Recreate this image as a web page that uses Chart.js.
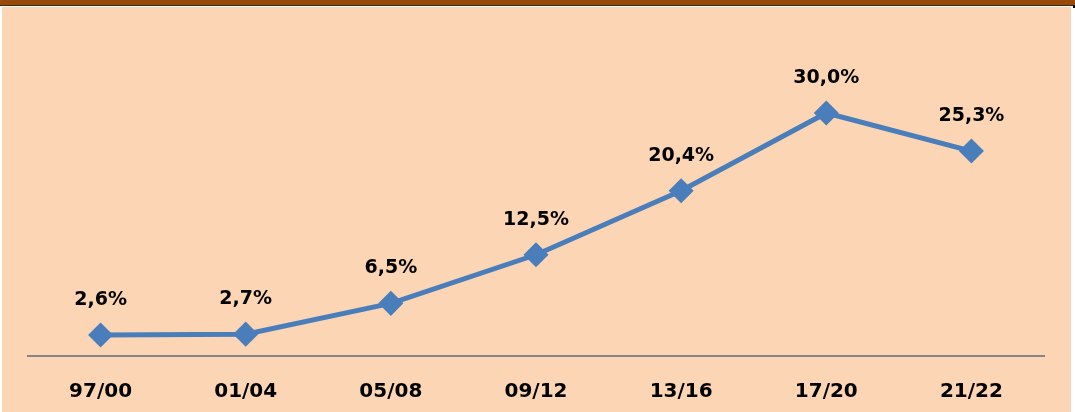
<!DOCTYPE html>
<html lang="pt">
<head>
  <meta charset="UTF-8">
  <title>Evolução</title>
  <script src="https://cdn.jsdelivr.net/npm/chart.js"></script>
  <style>
    body { margin: 0; background: #ffffff; width: 1075px; height: 412px; overflow: hidden; position: relative; font-family: "DejaVu Sans", sans-serif; }
    .topo { position: absolute; left: 0; top: 0; width: 1075px; height: 5px; background: #984807; }
    .topo-linha { position: absolute; left: 0; top: 5px; width: 1075px; height: 1px; background: #3f2a16; }
    .canto { position: absolute; left: 1073px; top: 5px; width: 2px; height: 3px; background: #000; }
    .painel { position: absolute; left: 2px; top: 7px; width: 1069px; height: 405px; background: #fcd5b4; }
  </style>
</head>
<body>
  <div class="topo"></div>
  <div class="topo-linha"></div>
  <div class="canto"></div>
  <div class="painel"><canvas id="grafico" width="1069" height="405"></canvas></div>

<script>
  // dados
  const periodos = ['97/00', '01/04', '05/08', '09/12', '13/16', '17/20', '21/22'];
  const valores = [2.6, 2.7, 6.5, 12.5, 20.4, 30.0, 25.3];

  // rótulos em cima de cada ponto
  const rotulos = {
    id: 'rotulos',
    afterDatasetsDraw(chart) {
      const ctx = chart.ctx;
      const meta = chart.getDatasetMeta(0);
      ctx.save();
      ctx.font = 'bold 19px "DejaVu Sans", sans-serif';
      ctx.fillStyle = '#000';
      ctx.textAlign = 'center';
      ctx.textBaseline = 'middle';
      meta.data.forEach((p, i) => {
        const txt = valores[i].toFixed(1).replace('.', ',') + '%';
        ctx.fillText(txt, p.x, p.y - 35);
      });
      ctx.restore();
    }
  };

  new Chart(document.getElementById('grafico'), {
    type: 'line',
    data: {
      labels: periodos,
      datasets: [{
        data: valores,
        borderColor: '#4a7ebb',
        backgroundColor: '#4a7ebb',
        borderWidth: 5,
        pointStyle: 'rectRot',
        pointRadius: 9,
        pointHoverRadius: 9,
        tension: 0,
        fill: false
      }]
    },
    options: {
      responsive: false,
      animation: false,
      events: [],
      layout: { autoPadding: false, padding: { top: 25, left: 26, right: 27, bottom: 0 } },
      plugins: { legend: { display: false }, tooltip: { enabled: false } },
      scales: {
        x: {
          offset: true,
          grid: { display: false },
          border: { display: true, color: '#868686', width: 2 },
          ticks: {
            color: '#000',
            padding: 16,
            font: { family: '"DejaVu Sans", sans-serif', size: 20, weight: 'bold' }
          },
          afterFit(axis) { axis.height = 56; }
        },
        y: {
          display: false,
          min: 0,
          max: 40
        }
      }
    },
    plugins: [rotulos]
  });
</script>
</body>
</html>
